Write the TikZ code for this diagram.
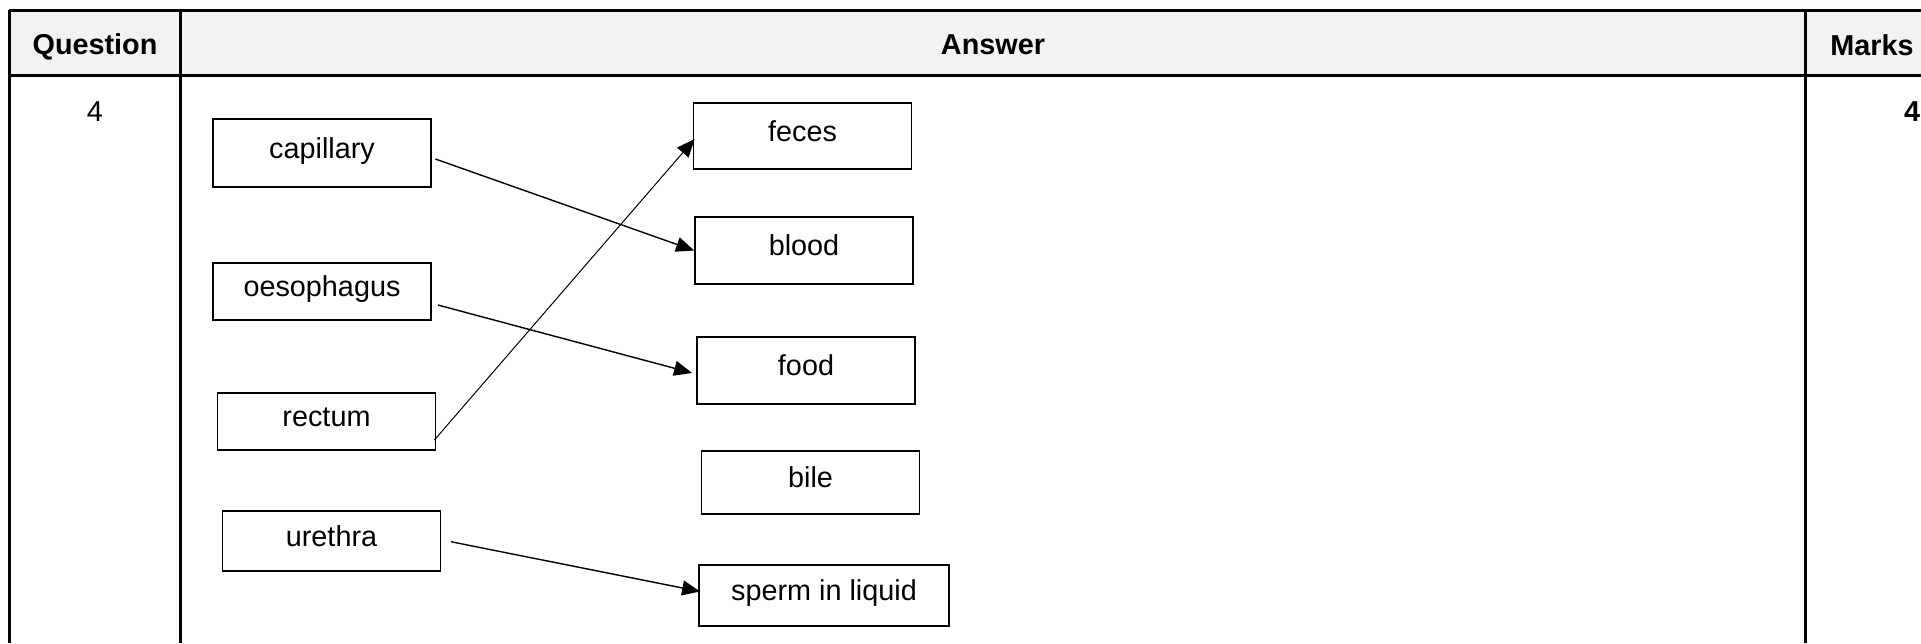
\documentclass[tikz,border=0pt]{standalone}
\usepackage{fontspec}
\setmainfont{Liberation Sans}
\usetikzlibrary{arrows.meta,calc}
\definecolor{hdrgray}{HTML}{F2F2F2}
\begin{document}
\begin{tikzpicture}[x=0.5pt,y=-0.5pt,
  every node/.style={font=\fontsize{14.4}{17}\selectfont},
  itembox/.style={draw=black,line width=0.9pt,minimum width=109pt,inner sep=0pt,text height=9pt,text depth=4pt},
  hd/.style={font=\fontsize{14.4}{17}\selectfont\bfseries},
  tbl/.style={line width=1.5pt,black},
  conn/.style={line width=0.7pt,-{Triangle[length=9pt,width=7.5pt]}},
  thinconn/.style={line width=0.5pt,-{Triangle[length=9pt,width=7.5pt]}}
]
\useasboundingbox (0,0) rectangle (1921,643);
% table
\fill[hdrgray] (9,10) rectangle (1921,75);
\draw[tbl] (8.8,10) -- (1921,10);
\draw[tbl] (8.8,75) -- (1921,75);
\draw[tbl] (9.5,10) -- (9.5,643);
\draw[tbl] (180,10) -- (180,643);
\draw[tbl] (1805,10) -- (1805,643);
\node[hd,anchor=base] (qh) at (95,54) {Question};
\node[hd,anchor=base] (ah) at (993,54) {Answer};
\node[hd,anchor=base] (mh) at (1872,55) {Marks};
\node[anchor=base] (qn) at (95,121) {4};
\node[hd,anchor=base east,inner sep=0pt] (mk) at (1920.5,121) {4};
% left boxes
\node[itembox,minimum height=34pt] (cap) at (322,153) {capillary};
\node[itembox,minimum height=28.5pt] (oes) at (322,291.5) {oesophagus};
\node[itembox,minimum height=28.5pt] (rec) at (326.5,421.5) {rectum};
\node[itembox,minimum height=30pt] (ure) at (331.5,541) {urethra};
% right boxes
\node[itembox,minimum height=33pt] (fec) at (802.5,136) {feces};
\node[itembox,minimum height=33.5pt] (blo) at (804,250.5) {blood};
\node[itembox,minimum height=33.5pt] (foo) at (806,370.5) {food};
\node[itembox,minimum height=31.5pt] (bil) at (810.5,482.5) {bile};
\node[itembox,minimum height=30.5pt,minimum width=125pt] (spe) at (824,595.5) {sperm in liquid};
% connectors
\draw[conn] ($(cap.east)+(3.5,6)$) -- (blo.west);
\draw[conn] ($(oes.east)+(6,13.5)$) -- ($(foo.west)+(-4,2.5)$);
\draw[thinconn] ($(rec.east)+(-2,18.5)$) -- ($(fec.west)+(2,3)$);
\draw[conn] ($(ure.east)+(9.5,0.7)$) -- ($(spe.west)+(2,-4)$);
\end{tikzpicture}
\end{document}
